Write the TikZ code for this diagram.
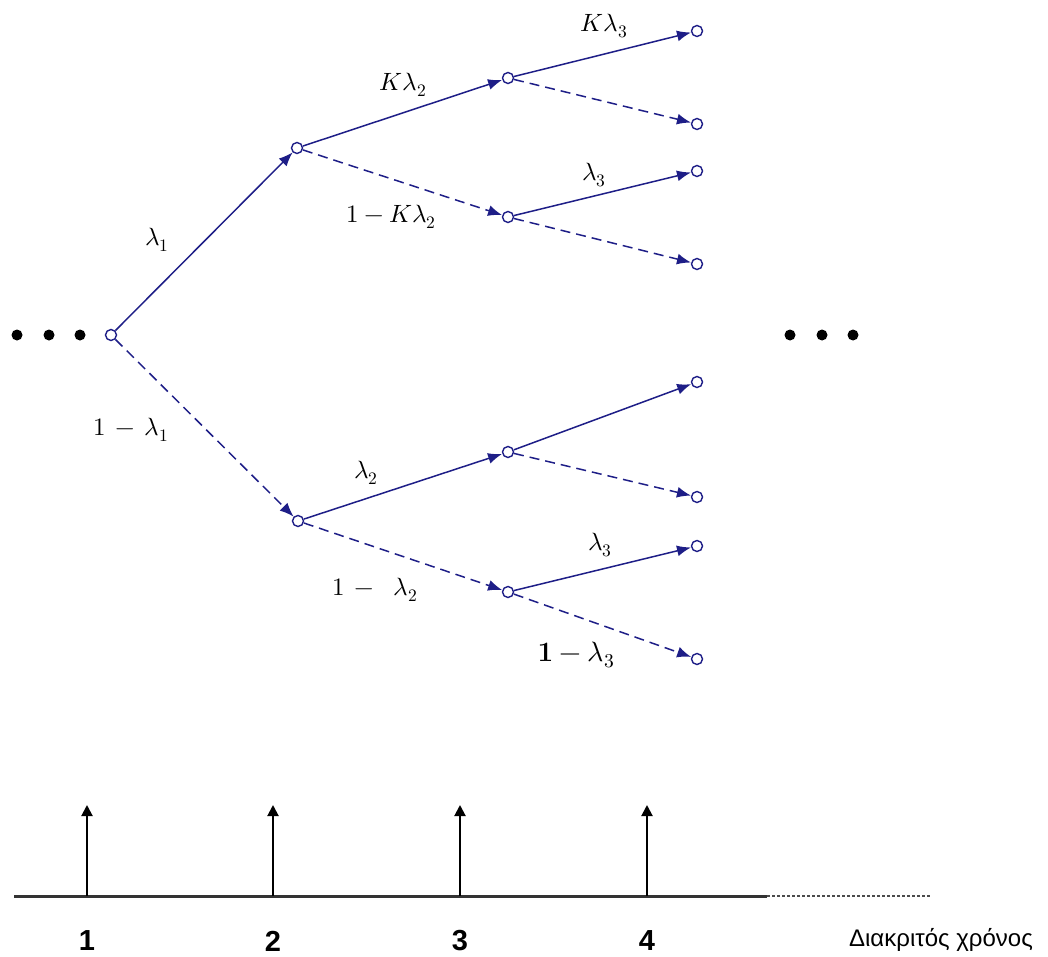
\documentclass[tikz,border=0pt]{standalone}
\usepackage{unicode-math}
\newfontfamily\grfont{Liberation Sans}
\usetikzlibrary{arrows.meta}
\definecolor{navy}{RGB}{30,30,135}

\begin{document}
\begin{tikzpicture}[x=1pt, y=-1pt,
  state/.style={circle, draw=navy, fill=white, line width=1.4pt, inner sep=0pt, minimum size=11pt},
  dot/.style={circle, fill=black, inner sep=0pt, minimum size=11pt},
  yes/.style={navy, line width=1.5pt, -{Latex[length=14pt,width=11pt]}},
  no/.style={yes, dash pattern=on 10pt off 6pt},
  lbl/.style={font=\fontsize{25}{29}\selectfont},
  tick/.style={black, line width=2pt, -{Triangle[length=11pt,width=11pt]}}]
  \useasboundingbox (0,0) rectangle (1048,957);

  % tree nodes (pixel coordinates, y downwards)
  \node[state] (r)   at (111,335) {};
  \node[state] (a)   at (297,148) {};
  \node[state] (b)   at (298,521) {};
  \node[state] (aa)  at (508,78)  {};
  \node[state] (ab)  at (508,217) {};
  \node[state] (ba)  at (508,452) {};
  \node[state] (bb)  at (508,592) {};
  \node[state] (aaa) at (697,31)  {};
  \node[state] (aab) at (697,124) {};
  \node[state] (aba) at (697,171) {};
  \node[state] (abb) at (697,264) {};
  \node[state] (baa) at (697,382) {};
  \node[state] (bab) at (697,497) {};
  \node[state] (bba) at (697,546) {};
  \node[state] (bbb) at (697,659) {};

  \draw[yes] (r) -- (a);
  \draw[no]  (r) -- (b);
  \draw[yes] (a) -- (aa);
  \draw[no]  (a) -- (ab);
  \draw[yes] (b) -- (ba);
  \draw[no]  (b) -- (bb);
  \draw[yes] (aa) -- (aaa);
  \draw[no]  (aa) -- (aab);
  \draw[yes] (ab) -- (aba);
  \draw[no]  (ab) -- (abb);
  \draw[yes] (ba) -- (baa);
  \draw[no]  (ba) -- (bab);
  \draw[yes] (bb) -- (bba);
  \draw[no]  (bb) -- (bbb);

  % branch probabilities
  \node[lbl] (l1)  at (157,240) {$\lambda_1$};
  \node[lbl] (m1)  at (131,430) {$1\,-\,\lambda_1$};
  \node[lbl] (l2a) at (403,85)  {$K\lambda_2$};
  \node[lbl] (m2a) at (391,217) {$1-K\lambda_2$};
  \node[lbl] (l3a) at (604,26)  {$K\lambda_3$};
  \node[lbl] (l3b) at (594,175) {$\lambda_3$};
  \node[lbl] (l2b) at (366,473) {$\lambda_2$};
  \node[lbl] (m2b) at (375,590) {$1\,-\;\;\lambda_2$};
  \node[lbl] (l3c) at (600,545) {$\lambda_3$};
  \node[font=\fontsize{28}{32}\selectfont] (m3c) at (576,655) {$\mathbf{1}-\lambda_3$};

  % continuation dots
  \foreach \x [count=\i] in {17,49,80} \node[dot] (dl\i) at (\x,335) {};
  \foreach \x [count=\i] in {790,822,853} \node[dot] (dr\i) at (\x,335) {};

  % discrete time axis
  \coordinate (ax0) at (14,896);
  \coordinate (ax1) at (767,896);
  \coordinate (ax2) at (930,896);
  \draw[black!80, line width=3pt] (ax0) -- (ax1);
  \draw[black!70, line width=2pt, dash pattern=on 3pt off 2pt] (ax1) -- (ax2);
  \foreach \x [count=\i] in {87,273,460,647} {
    \coordinate (t\i) at (\x,896);
    \coordinate (h\i) at (\x,805);
    \draw[tick] (t\i) -- (h\i);
    \node[font=\grfont\bfseries\fontsize{29}{33}\selectfont] (n\i) at (\x,941) {\i};
  }
  \node[font=\grfont\fontsize{24}{28}\selectfont] (xl) at (941,940) {Διακριτός χρόνος};
\end{tikzpicture}
\end{document}
